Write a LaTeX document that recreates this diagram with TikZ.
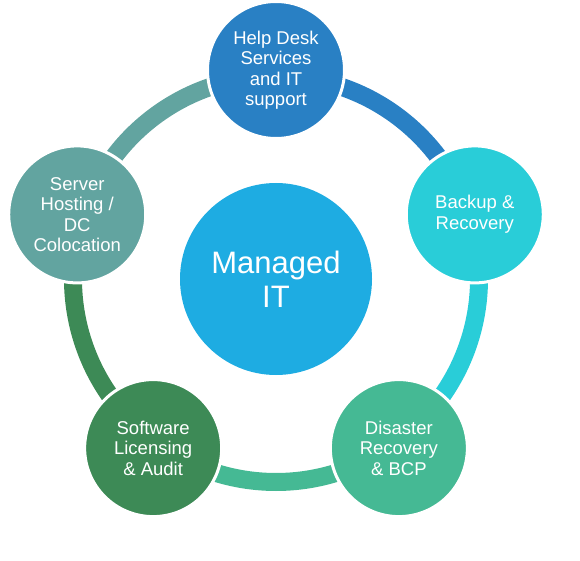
\documentclass[tikz,border=0pt]{standalone}
\usepackage{fontspec}
\setmainfont{Liberation Sans}
\usetikzlibrary{backgrounds,calc}
\definecolor{cHD}{RGB}{41,128,196}
\definecolor{cBK}{RGB}{41,205,216}
\definecolor{cDR}{RGB}{69,185,148}
\definecolor{cSW}{RGB}{61,138,86}
\definecolor{cSV}{RGB}{98,164,160}
\definecolor{cMain}{RGB}{30,172,226}
\begin{document}
\begin{tikzpicture}[x=1pt,y=1pt,
  outer/.style={circle, fill=#1, draw=white, line width=3pt, minimum size=137pt,
    inner sep=0pt, text=white, align=center, font=\fontsize{18.5}{20.5}\selectfont},
  ringarc/.style={draw=#1, line width=18pt}]
\useasboundingbox (0,0) rectangle (580,560);
\coordinate (c) at (276,281);
\node[circle, fill=cMain, minimum size=192pt, inner sep=0pt, text=white, align=center,
  font=\fontsize{31}{34}\selectfont] (main) at (c) {Managed\\IT};
\node[outer=cHD] (hd) at ($(c)+(90:209)$) {Help Desk\\Services\\and IT\\support};
\node[outer=cBK] (bk) at ($(c)+(18:209)$) {Backup \&\\Recovery};
\node[outer=cDR] (dr) at ($(c)+(-54:209)$) {Disaster\\Recovery\\\& BCP};
\node[outer=cSW] (sw) at ($(c)+(-126:209)$) {Software\\Licensing\\\& Audit};
\node[outer=cSV] (sv) at ($(c)+(162:209)$) {Server\\Hosting /\\DC\\Colocation};
\begin{scope}[on background layer]
\draw[ringarc=cHD] ($(c)!203/209!(hd.center)$) arc[start angle=90, end angle=18, radius=203];
\draw[ringarc=cBK] ($(c)!203/209!(bk.center)$) arc[start angle=18, end angle=-54, radius=203];
\draw[ringarc=cDR] ($(c)!203/209!(dr.center)$) arc[start angle=-54, end angle=-126, radius=203];
\draw[ringarc=cSW] ($(c)!203/209!(sw.center)$) arc[start angle=-126, end angle=-198, radius=203];
\draw[ringarc=cSV] ($(c)!203/209!(sv.center)$) arc[start angle=162, end angle=90, radius=203];
\end{scope}
\end{tikzpicture}
\end{document}
